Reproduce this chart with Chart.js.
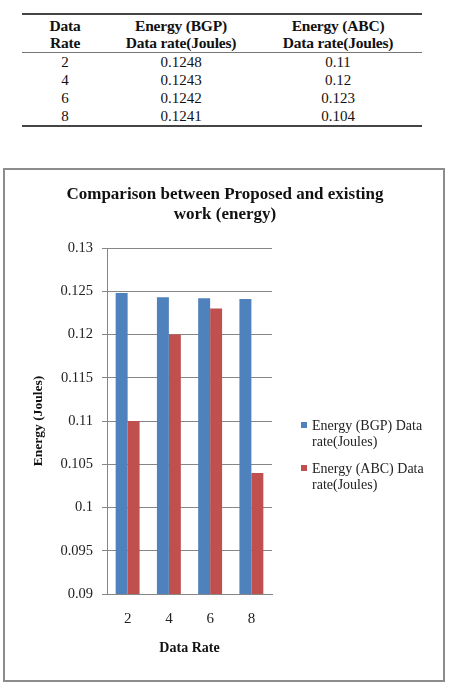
<!DOCTYPE html>
<html>
<head>
<meta charset="utf-8">
<script src="https://cdn.jsdelivr.net/npm/chart.js@4.4.1/dist/chart.umd.min.js"></script>
<style>
	body { margin: 0; background: #fff; width: 450px; height: 686px; position: relative; overflow: hidden; }
	table.data {
		position: absolute; left: 22px; top: 13px; width: 400px;
		border-collapse: collapse; font-family: "Liberation Serif", serif; color: #111;
		border-top: 2px solid #444; border-bottom: 2px solid #444;
	}
	table.data th { font-weight: bold; font-size: 15.5px; line-height: 17px; padding: 2px 0 1px; letter-spacing: -0.2px; border-bottom: 1px solid #777; }
	table.data td { text-align: center; font-size: 15px; line-height: 18px; padding: 0; }
	.box { position: absolute; left: 3px; top: 168px; width: 438px; height: 510px; border: 2px solid #8c8c8c; }
	.box canvas { display: block; }
</style>
</head>
<body>

<table class="data">
	<colgroup><col style="width:86px"><col style="width:146px"><col style="width:168px"></colgroup>
	<thead>
		<tr><th>Data<br>Rate</th><th>Energy (BGP)<br>Data rate(Joules)</th><th>Energy (ABC)<br>Data rate(Joules)</th></tr>
	</thead>
	<tbody id="rows"></tbody>
</table>

<div class="box"><canvas id="energy-chart" width="438" height="510"></canvas></div>

<script>
var dataRates = ['2', '4', '6', '8'];
var energyBGP = [0.1248, 0.1243, 0.1242, 0.1241];
var energyABC = [0.11, 0.12, 0.123, 0.104];
var seriesNames = ['Energy (BGP) Data rate(Joules)', 'Energy (ABC) Data rate(Joules)'];
var seriesColors = ['#4F81BD', '#C0504D'];
var titleLines = ['Comparison between Proposed and existing', 'work (energy)'];

// table rows from the same arrays
var tbody = document.getElementById('rows');
dataRates.forEach(function (r, i) {
	var tr = document.createElement('tr');
	[r, energyBGP[i], energyABC[i]].forEach(function (v) {
		var td = document.createElement('td');
		td.textContent = v;
		tr.appendChild(td);
	});
	tbody.appendChild(tr);
});

var serif = '"Liberation Serif", "Times New Roman", serif';

// title centred on the whole box + legend on the right, wrapped like the original
var boxText = {
	id: 'boxText',
	afterDraw: function (chart) {
		var ctx = chart.ctx;
		ctx.save();
		ctx.textBaseline = 'middle';
		ctx.textAlign = 'center';
		ctx.fillStyle = '#111';
		ctx.font = 'bold 17px ' + serif;
		titleLines.forEach(function (l, k) { ctx.fillText(l, chart.width / 2 + 1, 25 + k * 20); });

		ctx.textAlign = 'left';
		ctx.font = '14px ' + serif;
		var y = 256;
		chart.data.datasets.forEach(function (ds) {
			var words = ds.label.split(' ');
			var lines = [], cur = '';
			words.forEach(function (w) {
				var t = cur ? cur + ' ' + w : w;
				if (ctx.measureText(t).width > 120 && cur) { lines.push(cur); cur = w; } else { cur = t; }
			});
			lines.push(cur);
			ctx.fillStyle = ds.backgroundColor;
			ctx.fillRect(296, y - 4, 6, 6);
			ctx.fillStyle = '#222';
			lines.forEach(function (l, k) { ctx.fillText(l, 307, y + k * 16); });
			y += lines.length * 16 + 11;
		});
		ctx.restore();
	}
};

new Chart('energy-chart', {
	type: 'bar',
	data: {
		labels: dataRates,
		datasets: [
			{ label: seriesNames[0], data: energyBGP, backgroundColor: seriesColors[0] },
			{ label: seriesNames[1], data: energyABC, backgroundColor: seriesColors[1] }
		]
	},
	options: {
		responsive: false,
		animation: false,
		layout: { padding: { left: 21, right: 171, top: 78, bottom: 19 } },
		datasets: { bar: { categoryPercentage: 0.58, barPercentage: 1 } },
		plugins: {
			legend: { display: false },
			tooltip: { enabled: false },
			title: { display: false }
		},
		scales: {
			x: {
				grid: { display: false },
				border: { display: true, color: '#868686', width: 1 },
				ticks: { color: '#222', font: { family: serif, size: 15 }, padding: 8 },
				title: { display: true, text: 'Data Rate', color: '#111', font: { family: serif, size: 14, weight: 'bold' }, padding: 4 },
				afterFit: function (s) { s.height = 67; }
			},
			y: {
				min: 0.09,
				max: 0.13,
				ticks: { stepSize: 0.005, color: '#222', font: { family: serif, size: 14.5 }, padding: 9,
					callback: function (v) { return +v.toFixed(3); } },
				grid: { color: '#868686', tickLength: 5 },
				border: { color: '#868686' },
				title: { display: true, text: 'Energy (Joules)', color: '#111', font: { family: serif, size: 13.5, weight: 'bold' }, padding: 4 },
				afterFit: function (s) { s.width = 81; }
			}
		}
	},
	plugins: [boxText]
});
</script>
</body>
</html>
